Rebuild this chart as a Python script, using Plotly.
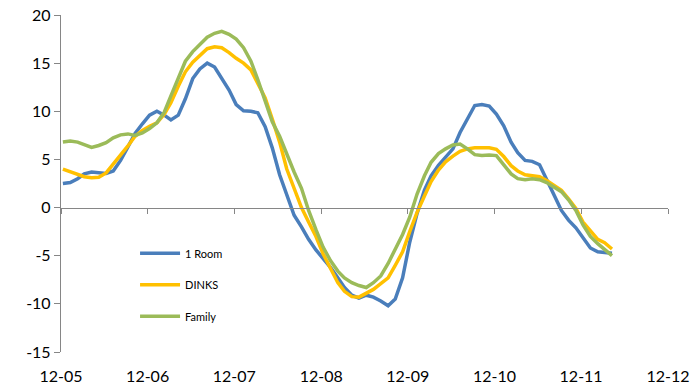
import pandas as pd
import plotly.graph_objects as go

# Monthly index values, Dec 2005 - Apr 2012
months = pd.date_range("2005-12-01", periods=77, freq="MS") + pd.Timedelta(days=8)

one_room = [2.5, 2.6, 3.0, 3.5, 3.7, 3.65, 3.55, 3.8, 4.9, 6.3,
            7.7, 8.7, 9.6, 10.0, 9.6, 9.1, 9.6, 11.3, 13.4, 14.4,
            15.0, 14.6, 13.5, 12.2, 10.7, 10.05, 10.0, 9.85, 8.4, 6.2,
            3.4, 1.3, -0.8, -2.0, -3.3, -4.4, -5.3, -6.2, -7.3, -8.3,
            -9.1, -9.4, -9.1, -9.3, -9.7, -10.2, -9.5, -7.3, -3.6, -0.6,
            1.8, 3.3, 4.4, 5.2, 6.1, 7.8, 9.3, 10.6, 10.7, 10.55,
            9.7, 8.5, 6.8, 5.7, 4.9, 4.8, 4.45, 3.0, 1.3, -0.3,
            -1.3, -2.1, -3.1, -4.2, -4.6, -4.7, -4.75]

dinks = [4.0, 3.7, 3.4, 3.2, 3.1, 3.15, 3.6, 4.5, 5.4, 6.4,
         7.4, 8.0, 8.45, 8.8, 9.7, 10.9, 12.6, 14.1, 15.1, 15.85,
         16.5, 16.7, 16.6, 16.1, 15.5, 15.0, 14.3, 12.9, 11.4, 9.2,
         6.8, 4.0, 1.9, 0.0, -1.5, -3.0, -4.8, -6.3, -7.8, -8.7,
         -9.25, -9.3, -8.9, -8.5, -7.9, -7.3, -6.0, -4.6, -2.5, -0.5,
         1.2, 2.7, 3.9, 4.75, 5.35, 5.85, 6.1, 6.2, 6.2, 6.2,
         6.05, 5.3, 4.35, 3.8, 3.4, 3.3, 3.2, 2.8, 2.3, 1.8,
         0.9, -0.1, -1.5, -2.4, -3.3, -3.65, -4.3]

family = [6.8, 6.9, 6.8, 6.5, 6.25, 6.45, 6.75, 7.25, 7.55, 7.65,
          7.5, 7.75, 8.2, 8.8, 9.9, 11.6, 13.4, 15.2, 16.2, 17.0,
          17.7, 18.1, 18.3, 18.0, 17.5, 16.6, 15.2, 13.3, 11.1, 8.9,
          7.4, 5.5, 3.7, 2.0, -0.3, -2.3, -4.1, -5.5, -6.6, -7.3,
          -7.8, -8.1, -8.3, -7.8, -7.1, -5.8, -4.4, -2.8, -1.0, 1.4,
          3.3, 4.7, 5.6, 6.1, 6.5, 6.6, 6.1, 5.5, 5.4, 5.45,
          5.4, 4.4, 3.5, 3.0, 2.9, 3.0, 2.9, 2.6, 2.1, 1.65,
          0.8, -0.3, -1.8, -3.0, -3.75, -4.3, -5.0]

series = [("1 Room", one_room, "#4A7EBB"),
          ("DINKS", dinks, "#FFC000"),
          ("Family", family, "#9BBB59")]

x_range = ["2005-12-01", "2012-12-01"]
y_range = [-15, 20]
y_ticks = [-15, -10, -5, 0, 5, 10, 15, 20]
y_tick_text = [str(v) for v in y_ticks]  # plain hyphen minus signs
tick_vals = pd.date_range("2005-12-01", "2012-12-01", freq="12MS")
tick_text = [d.strftime("%m-%y") for d in tick_vals]

fig = go.Figure()
for i, (name, vals, color) in enumerate(series):
    fig.add_trace(go.Scatter(
        x=months, y=vals, name=name, mode="lines",
        line=dict(color=color, width=3.5),
        legendgroup=f"g{i}",
    ))

# invisible trace that carries the axis drawn along y = 0
fig.add_trace(go.Scatter(x=[months[0]], y=[0], xaxis="x2", mode="lines",
                         showlegend=False, hoverinfo="skip",
                         line=dict(width=0)))

font = "Lato, 'Open Sans', sans-serif"
axis_grey = "#868686"

fig.update_layout(
    width=695, height=387,
    margin=dict(l=61, r=27, t=15, b=35),
    paper_bgcolor="white", plot_bgcolor="white",
    font=dict(family=font, color="black"),
    showlegend=True,
    legend=dict(
        x=0.122, y=0.336, xanchor="left", yanchor="top",
        font=dict(size=11, color="black"),
        tracegroupgap=12.5, itemwidth=40,
        bgcolor="rgba(0,0,0,0)",
    ),
    xaxis=dict(
        type="date", range=x_range, automargin=False,
        tickvals=tick_vals, ticktext=tick_text,
        showline=False, showgrid=False, zeroline=False,
        ticks="", ticklabelstandoff=13,
        tickfont=dict(size=16, family=font, color="black"),
    ),
    xaxis2=dict(
        type="date", range=x_range, overlaying="x", automargin=False,
        anchor="free", position=(0 - y_range[0]) / (y_range[1] - y_range[0]),
        tickvals=tick_vals, showticklabels=False,
        showline=True, linecolor=axis_grey, linewidth=1.3,
        ticks="outside", ticklen=5, tickcolor=axis_grey, tickwidth=1,
        showgrid=False, zeroline=False,
    ),
    yaxis=dict(
        range=y_range, tickvals=y_ticks, ticktext=y_tick_text,
        automargin=False,
        showline=True, linecolor=axis_grey, linewidth=1.3,
        ticks="outside", ticklen=6, tickcolor=axis_grey,
        showgrid=False, zeroline=False,
        tickfont=dict(size=16, family=font, color="black"),
    ),
)

fig.write_html("out.html")
